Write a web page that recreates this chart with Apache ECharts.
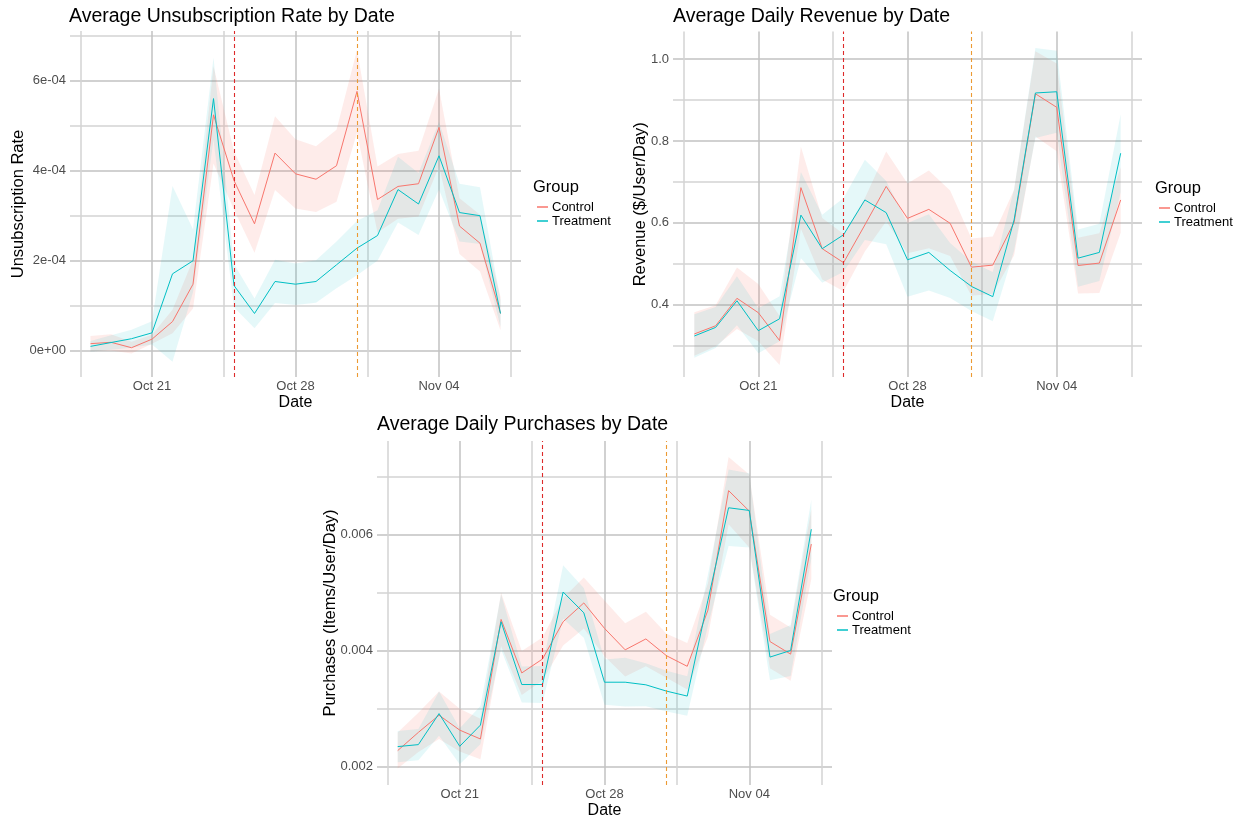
<!DOCTYPE html>
<html><head><meta charset="utf-8">
<script src="https://cdn.jsdelivr.net/npm/echarts@6/dist/echarts.min.js"></script>
<style>html,body{margin:0;padding:0;background:#fff}#c{width:1244px;height:820px}</style>
</head><body><div id="c"></div>
<script>
const dates = ['2023-10-18','2023-10-19','2023-10-20','2023-10-21','2023-10-22','2023-10-23','2023-10-24',
  '2023-10-25','2023-10-26','2023-10-27','2023-10-28','2023-10-29','2023-10-30','2023-10-31',
  '2023-11-01','2023-11-02','2023-11-03','2023-11-04','2023-11-05','2023-11-06','2023-11-07'];
const xTickDates = ['2023-10-21','2023-10-28','2023-11-04'];
const xTickLabels = ['Oct 21','Oct 28','Nov 04'];
const eventDates = ['2023-10-25','2023-10-31'];
const groups = ['Control','Treatment'];

// Panel 1: unsubscription rate (mean, CI half-width)
const unsubControl = [1.6e-5,1.9e-5,0.7e-5,2.6e-5,6.5e-5,1.48e-4,5.24e-4,3.78e-4,2.82e-4,4.39e-4,3.93e-4,3.81e-4,4.11e-4,5.76e-4,3.36e-4,3.65e-4,3.71e-4,4.96e-4,2.77e-4,2.39e-4,0.83e-4];
const unsubControlCI = [1.7e-5,1.8e-5,1.3e-5,1.0e-5,2.6e-5,5.4e-5,1.08e-4,6.5e-5,6.4e-5,8.2e-5,7.7e-5,7.3e-5,8.0e-5,9.2e-5,7.3e-5,7.2e-5,7.3e-5,8.6e-5,6.2e-5,6.3e-5,3.7e-5];
const unsubTreatment = [1.0e-5,1.85e-5,2.7e-5,4.0e-5,1.71e-4,2.0e-4,5.6e-4,1.45e-4,0.83e-4,1.54e-4,1.48e-4,1.54e-4,1.91e-4,2.28e-4,2.56e-4,3.58e-4,3.26e-4,4.33e-4,3.07e-4,3.0e-4,0.83e-4];
const unsubTreatmentCI = [1.2e-5,1.6e-5,2.0e-5,2.6e-5,1.95e-4,7.0e-5,9.1e-5,4.8e-5,3.3e-5,4.8e-5,4.6e-5,4.7e-5,5.2e-5,6.0e-5,5.6e-5,7.3e-5,6.9e-5,7.5e-5,6.4e-5,6.3e-5,3.0e-5];
const unsubTickValues = [0,2e-4,4e-4,6e-4];
const unsubTickLabels = ['0e+00','2e-04','4e-04','6e-04'];

// Panel 2: revenue
const revControl = [0.329,0.349,0.416,0.381,0.313,0.686,0.537,0.503,0.595,0.689,0.611,0.633,0.599,0.492,0.497,0.601,0.915,0.882,0.496,0.502,0.656];
const revControlCI = [0.053,0.05,0.075,0.07,0.06,0.10,0.075,0.07,0.065,0.085,0.085,0.095,0.08,0.07,0.07,0.08,0.104,0.107,0.068,0.073,0.08];
const revTreatment = [0.324,0.345,0.410,0.337,0.366,0.619,0.537,0.571,0.656,0.625,0.510,0.528,0.484,0.445,0.420,0.607,0.917,0.920,0.514,0.528,0.770];
const revTreatmentCI = [0.053,0.05,0.06,0.055,0.055,0.105,0.083,0.09,0.098,0.077,0.09,0.093,0.067,0.06,0.06,0.075,0.11,0.10,0.07,0.07,0.095];
const revTickValues = [0.4,0.6,0.8,1.0];
const revTickLabels = ['0.4','0.6','0.8','1.0'];

// Panel 3: purchases
const purControl = [0.002273,0.002587,0.002883,0.002626,0.002473,0.004534,0.003612,0.003851,0.004494,0.004819,0.004380,0.004010,0.004198,0.003908,0.003726,0.004694,0.006755,0.006402,0.004153,0.003936,0.005833];
const purControlCI = [0.00031,0.00034,0.00041,0.00037,0.00035,0.00046,0.00038,0.00037,0.00041,0.00044,0.00048,0.00046,0.00047,0.00038,0.0004,0.00046,0.00058,0.00063,0.00046,0.00046,0.0006];
const purTreatment = [0.002342,0.002376,0.002911,0.002347,0.002712,0.004494,0.003412,0.003412,0.005007,0.004648,0.003452,0.003452,0.003407,0.003298,0.003213,0.004864,0.006459,0.006413,0.003885,0.003999,0.006089];
const purTreatmentCI = [0.00027,0.00027,0.00038,0.00031,0.00033,0.00048,0.00031,0.00032,0.00046,0.00043,0.00039,0.00042,0.00037,0.00035,0.00034,0.00044,0.00066,0.00064,0.0004,0.00044,0.00051];
const purTickValues = [0.002,0.004,0.006];
const purTickLabels = ['0.002','0.004','0.006'];

const COL = {Control:'#F8766D', Treatment:'#00BFC4'};
const FILL = {Control:'rgba(248,118,109,0.14)', Treatment:'rgba(0,191,196,0.10)'};
const MAJOR = '#c2c2c2', MINOR = '#d3d3d3';
const FONT = '"Liberation Sans", Arial, Helvetica, sans-serif';

function dayNum(s){ const p=s.split('-').map(Number); return (Date.UTC(p[0],p[1]-1,p[2])-Date.UTC(2023,9,14))/86400000; }
const xs = dates.map(dayNum);
const xMajors = xTickDates.map(dayNum);
const xGrid = [];
xMajors.forEach(m=>{ xGrid.push(m-3.5, m); });
xGrid.push(xMajors[xMajors.length-1]+3.5);
const xGridColors = xGrid.map(v=>xMajors.includes(v)?MAJOR:MINOR);
const xMin = xs[0]-1, xMax = xs[xs.length-1]+1;
const events = eventDates.map(dayNum);

const panels = [
  {title:'Average Unsubscription Rate by Date', yName:'Unsubscription Rate',
   grid:{left:70, top:31, width:451, height:346}, yMin:-0.58e-4, yMax:7.1e-4, nameGap:43,
   yGrid:[0,1e-4,2e-4,3e-4,4e-4,5e-4,6e-4,7e-4], ticks:unsubTickValues, labels:unsubTickLabels,
   c:unsubControl, cci:unsubControlCI, t:unsubTreatment, tci:unsubTreatmentCI,
   titlePos:{left:69, top:7}, legendPos:{left:537, top:200}, groupPos:{left:533, top:179}},
  {title:'Average Daily Revenue by Date', yName:'Revenue ($/User/Day)',
   grid:{left:673, top:31.5, width:469, height:345.5}, yMin:0.224, yMax:1.067, nameGap:24,
   yGrid:[0.3,0.4,0.5,0.6,0.7,0.8,0.9,1.0], ticks:revTickValues, labels:revTickLabels,
   c:revControl, cci:revControlCI, t:revTreatment, tci:revTreatmentCI,
   titlePos:{left:673, top:7}, legendPos:{left:1159, top:201}, groupPos:{left:1155, top:180}},
  {title:'Average Daily Purchases by Date', yName:'Purchases (Items/User/Day)',
   grid:{left:377, top:441, width:455, height:347}, yMin:0.00168, yMax:0.00761, nameGap:38,
   yGrid:[0.002,0.003,0.004,0.005,0.006,0.007], ticks:purTickValues, labels:purTickLabels,
   c:purControl, cci:purControlCI, t:purTreatment, tci:purTreatmentCI,
   titlePos:{left:377, top:415}, legendPos:{left:837, top:609}, groupPos:{left:833, top:588}}
];

function ribbon(idx, mean, ci, color){
  const lo = mean.map((v,i)=>v-ci[i]), hi = mean.map((v,i)=>v+ci[i]);
  return {type:'custom', xAxisIndex:idx, yAxisIndex:idx, silent:true, clip:true, z:1,
    data: xs.map((x,i)=>[x, lo[i], hi[i]]), encode:{x:0, y:[1,2]},
    renderItem(params, api){
      if (params.dataIndex !== 0) return null;
      const pts = [];
      for (let i=0;i<xs.length;i++) pts.push(api.coord([xs[i], hi[i]]));
      for (let i=xs.length-1;i>=0;i--) pts.push(api.coord([xs[i], lo[i]]));
      return {type:'polygon', shape:{points:pts}, style:{fill:color}};
    }};
}
function line(idx, name, mean, withMarks){
  const s = {type:'line', name, xAxisIndex:idx, yAxisIndex:idx, color:COL[name], z:3,
    data: xs.map((x,i)=>[x, mean[i]]), showSymbol:false, symbol:'none',
    lineStyle:{width:1, color:COL[name]}, silent:true};
  if (withMarks){
    s.markLine = {silent:true, symbol:['none','none'], label:{show:false},
      lineStyle:{type:[4,3], width:1.1},
      data:[{xAxis:events[0], lineStyle:{color:'#dd2a2a', type:[4,3], width:1.1}},
            {xAxis:events[1], lineStyle:{color:'#ec9a33', type:[4,3], width:1.1}}]};
  }
  return s;
}
function fmt(values, labels){ return v => { const k = values.findIndex(t=>Math.abs(t-v) < 1e-9); return k>=0 ? labels[k] : ''; }; }

const option = {animation:false, backgroundColor:'#fff',
  title:[], grid:[], xAxis:[], yAxis:[], legend:[], series:[]};
panels.forEach((p,i)=>{
  option.title.push({text:p.title, left:p.titlePos.left, top:p.titlePos.top, padding:0,
    textStyle:{fontFamily:FONT, fontSize:19.5, fontWeight:'normal', color:'#000'}});
  option.title.push({text:'Group', left:p.groupPos.left, top:p.groupPos.top, padding:0,
    textStyle:{fontFamily:FONT, fontSize:16.5, fontWeight:'normal', color:'#000'}});
  option.grid.push(Object.assign({containLabel:false}, p.grid));
  option.xAxis.push({type:'value', gridIndex:i, min:xMin, max:xMax,
    name:'Date', nameLocation:'middle', nameGap:18, nameMoveOverlap:false,
    nameTextStyle:{fontFamily:FONT, fontSize:16, color:'#000'},
    axisLine:{show:false}, axisTick:{show:false, customValues:xGrid},
    splitLine:{show:true, lineStyle:{color:xGridColors, width:1.5}},
    axisLabel:{customValues:xMajors, formatter:fmt(xMajors, xTickLabels), margin:3,
      fontFamily:FONT, fontSize:13, color:'#4d4d4d'}});
  option.yAxis.push({type:'value', gridIndex:i, min:p.yMin, max:p.yMax,
    name:p.yName, nameLocation:'middle', nameGap:p.nameGap, nameMoveOverlap:false,
    nameTextStyle:{fontFamily:FONT, fontSize:16.5, color:'#000'},
    axisLine:{show:false}, axisTick:{show:false, customValues:p.yGrid},
    splitLine:{show:true, lineStyle:{color:p.yGrid.map(v=>p.ticks.some(t=>Math.abs(t-v)<1e-9)?MAJOR:MINOR), width:1.5}},
    axisLabel:{customValues:p.ticks, formatter:fmt(p.ticks, p.labels), margin:4,
      fontFamily:FONT, fontSize:13, color:'#4d4d4d'}});
  option.legend.push({orient:'vertical', left:p.legendPos.left, top:p.legendPos.top, padding:0,
    itemGap:0, itemWidth:11, itemHeight:1.5, icon:'rect', selectedMode:false,
    data:groups, textStyle:{fontFamily:FONT, fontSize:13, color:'#000', lineHeight:14, padding:[0,0,0,-1]}});
  option.series.push(ribbon(i, p.c, p.cci, FILL.Control));
  option.series.push(ribbon(i, p.t, p.tci, FILL.Treatment));
  option.series.push(line(i, 'Control', p.c, true));
  option.series.push(line(i, 'Treatment', p.t, false));
});
const chart = echarts.init(document.getElementById('c'), null, {renderer:'canvas'});
chart.setOption(option);
</script></body></html>
